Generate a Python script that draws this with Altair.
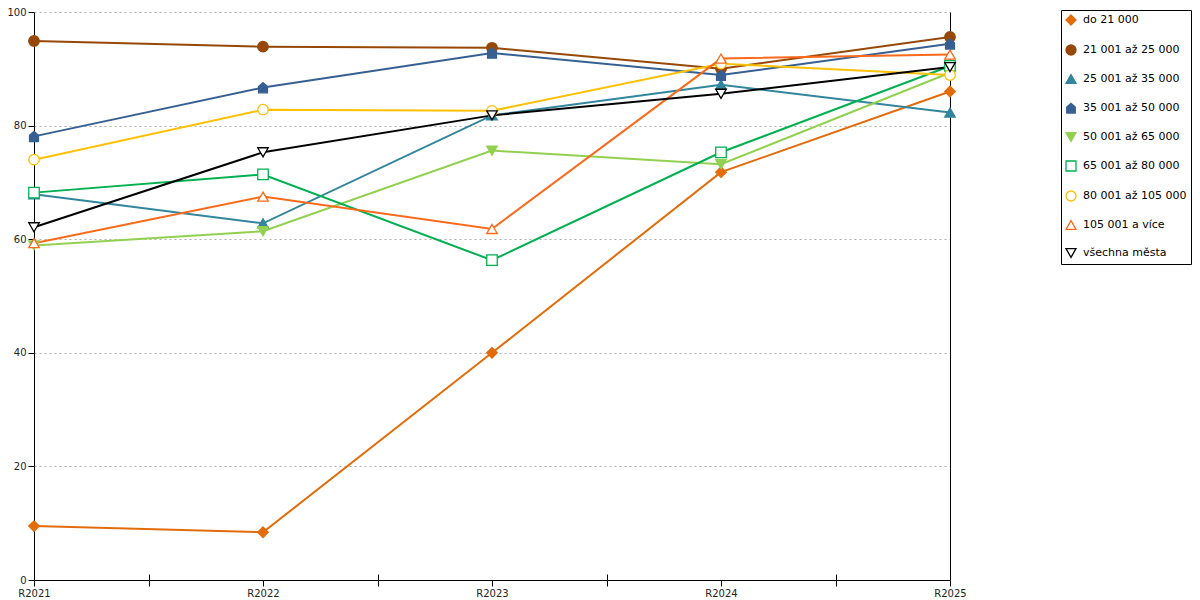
import altair as alt
import pandas as pd

years = ["R2021", "R2022", "R2023", "R2024", "R2025"]

series = [
    "do 21 000",
    "21 001 až 25 000",
    "25 001 až 35 000",
    "35 001 až 50 000",
    "50 001 až 65 000",
    "65 001 až 80 000",
    "80 001 až 105 000",
    "105 001 a více",
    "všechna města",
]

v_do21 = [9.5, 8.4, 40.0, 71.8, 86.0]
v_21_25 = [94.9, 93.9, 93.7, 90.0, 95.6]
v_25_35 = [67.9, 62.8, 81.8, 87.2, 82.3]
v_35_50 = [78.1, 86.7, 92.8, 88.9, 94.4]
v_50_65 = [58.9, 61.4, 75.6, 73.2, 89.3]
v_65_80 = [68.2, 71.4, 56.3, 75.3, 90.5]
v_80_105 = [74.0, 82.8, 82.6, 90.9, 88.9]
v_105 = [59.3, 67.5, 61.8, 91.8, 92.5]
v_all = [62.1, 75.3, 81.8, 85.6, 90.3]

values = [v_do21, v_21_25, v_25_35, v_35_50, v_50_65, v_65_80, v_80_105, v_105, v_all]

colors = ["#e36c0a", "#974806", "#31859c", "#376092", "#92d050",
          "#00b050", "#ffc000", "#fb6a1a", "#000000"]
fills = ["#e36c0a", "#974806", "#31859c", "#376092", "#92d050",
         "white", "white", "white", "white"]
house = "M-0.85,1 L0.85,1 L0.85,-0.2 L0,-0.95 L-0.85,-0.2 Z"
shapes = ["diamond", "circle", "triangle-up", house, "triangle-down",
          "square", "circle", "triangle-up", "triangle-down"]

rows = []
for k, (s, vals) in enumerate(zip(series, values)):
    for i, v in enumerate(vals):
        rows.append({"series": s, "idx": i, "value": v, "sid": k})
df = pd.DataFrame(rows)

label_expr = ("datum.value % 1 == 0 ? " + str(years) + "[datum.value] : ''")

xscale = alt.Scale(domain=[0, 4], nice=False, zero=False)
yscale = alt.Scale(domain=[0, 100], nice=False)

font = "DejaVu Sans"

x_main = alt.Axis(orient="bottom", values=[0, 0.5, 1, 1.5, 2, 2.5, 3, 3.5, 4],
                  labelExpr=label_expr, tickSize=6, tickColor="black",
                  domainColor="black", grid=False, labelFlush=False,
                  labelOverlap=False, labelFontSize=10, labelFont=font,
                  labelColor="#222", labelPadding=2, title=None)
x_half = alt.Axis(orient="bottom", values=[0.5, 1.5, 2.5, 3.5], offset=-6, tickSize=6,
                  tickColor="black", domain=False, labels=False, grid=False, title=None)
y_main = alt.Axis(orient="left", values=[0, 20, 40, 60, 80, 100], grid=True,
                  gridDash=[2, 3], gridColor="#b0b0b0", tickSize=6, tickColor="black",
                  domainColor="black", labelFontSize=10, labelFont=font,
                  labelColor="#222", labelPadding=2, title=None)
y_right = alt.Axis(orient="right", domainColor="black", ticks=False, labels=False,
                   grid=False, title=None)

legend = alt.Legend(title=None, orient="none", legendX=1027, legendY=-2,
                    strokeColor="black", padding=4, rowPadding=14,
                    labelFontSize=11, labelFont=font, labelColor="black",
                    symbolSize=100, symbolStrokeWidth=1.3, labelOffset=6,
                    labelLimit=300, fillColor="white")

lines = alt.Chart(df).mark_line(strokeWidth=2).encode(
    x=alt.X("idx:Q", scale=xscale, axis=x_main),
    y=alt.Y("value:Q", scale=yscale, axis=y_main),
    color=alt.Color("sid:N", scale=alt.Scale(domain=list(range(len(series))), range=colors),
                    legend=None),
    order="idx:Q",
)

points = alt.Chart(df).mark_point(opacity=1, strokeWidth=1.3, size=110).encode(
    x=alt.X("idx:Q", scale=xscale, axis=x_half),
    y=alt.Y("value:Q", scale=yscale, axis=y_right),
    stroke=alt.Stroke("series:N", scale=alt.Scale(domain=series, range=colors), legend=legend),
    fill=alt.Fill("series:N", scale=alt.Scale(domain=series, range=fills), legend=legend),
    shape=alt.Shape("series:N", scale=alt.Scale(domain=series, range=shapes), legend=legend),
)

chart = alt.layer(lines, points).resolve_axis(x="independent", y="independent").properties(
    width=916, height=568,
    autosize=alt.AutoSizeParams(type="none"),
    padding={"left": 26, "top": 4, "right": 242, "bottom": 18},
).configure_view(stroke=None)

chart.save("out.html", embed_options={"renderer": "svg", "actions": False})
